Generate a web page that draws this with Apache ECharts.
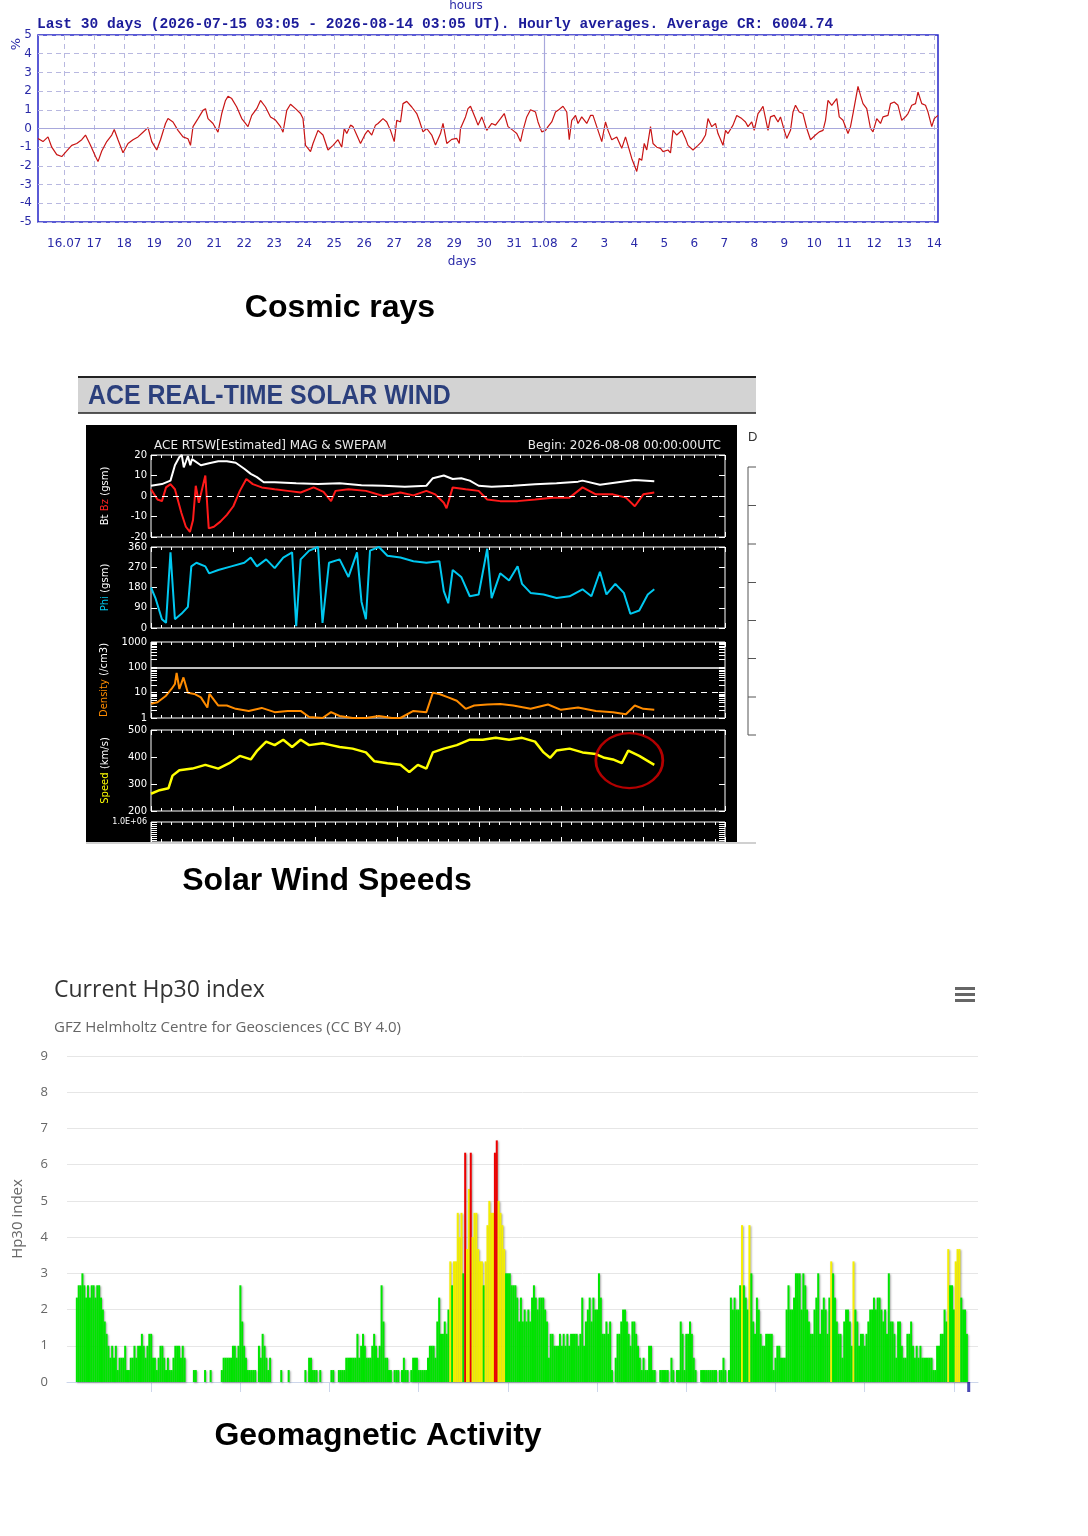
<!DOCTYPE html>
<html>
<head>
<meta charset="utf-8">
<title>Cosmic rays, solar wind, Hp30</title>
<script src="https://cdn.jsdelivr.net/npm/echarts@6/dist/echarts.min.js"></script>
<style>
html, body { margin: 0; padding: 0; background: #fff; }
#chart { width: 1088px; height: 1536px; }
</style>
</head>
<body>
<div id="chart"></div>
<script>
// ---- cosmic rays: hour 0 = 2026-07-15 03:05 UT, [hour, %] ----
var dayLabels = ['16.07','17','18','19','20','21','22','23','24','25','26','27','28','29','30','31',
    '1.08','2','3','4','5','6','7','8','9','10','11','12','13','14'];
var crData = [[0,-0.53],[4,-0.7],[8,-0.45],[11,-1.0],[15,-1.4],[19,-1.5],[23,-1.2],[27,-0.9],[31,-0.8],[35,-0.6],
    [38,-0.35],[42,-0.9],[46,-1.5],[48,-1.77],[51,-1.2],[55,-0.7],[59,-0.35],[61,-0.05],[64,-0.6],[68,-1.3],
    [72,-0.8],[76,-0.6],[80,-0.45],[84,-0.2],[88,0.05],[91,-0.7],[95,-1.15],[98,-0.6],[102,0.27],[104,0.53],
    [108,0.35],[112,-0.1],[116,-0.45],[120,-0.55],[122,-0.9],[124,0.1],[128,0.53],[132,0.97],[134,1.06],[136,0.53],
    [140,0.27],[144,-0.2],[147,0.8],[150,1.5],[152,1.72],[155,1.6],[159,1.15],[163,0.53],[168,0.1],[171,0.7],
    [175,1.06],[178,1.5],[182,1.15],[186,0.62],[190,0.45],[194,0.1],[196,-0.2],[199,0.97],[202,1.3],[206,1.06],
    [210,0.8],[212,0.53],[214,-0.9],[216,-1.06],[218,-1.24],[220,-0.8],[224,-0.1],[228,-0.35],[232,-1.15],[236,-0.9],
    [240,-0.6],[243,-1.0],[245,0],[247,-0.27],[250,0.18],[252,0.1],[255,-0.35],[258,-0.8],[262,-0.27],[264,-0.1],
    [267,-0.35],[270,0.18],[272,0.27],[276,0.53],[279,0.35],[282,-0.1],[285,-0.7],[287,0.44],[290,0.35],[292,1.33],
    [295,1.45],[299,1.15],[303,0.8],[305,0.44],[308,-0.18],[311,0],[315,-0.35],[318,-0.88],[322,-0.27],[324,0.27],
    [327,-0.8],[331,-0.58],[335,-0.53],[337,-0.8],[338,0],[342,0.62],[344,1.06],[346,1.19],[350,0.53],[352,0.18],
    [355,0.62],[359,-0.1],[363,0.27],[366,0.18],[370,0.53],[373,0.8],[376,0.1],[380,-0.1],[383,-0.27],[386,-0.7],
    [388,-0.1],[391,0.62],[394,1.0],[398,0.88],[400,0.35],[403,-0.18],[406,-0.1],[408,0.1],[411,0.35],[414,0.88],
    [416,0.97],[420,1.19],[423,0.88],[425,-0.6],[427,0.44],[430,0.7],[432,0.27],[435,0.62],[439,0.27],[442,0.7],
    [444,0.7],[447,0.1],[451,-0.7],[454,0.35],[456,-0.1],[459,-0.6],[463,-0.45],[467,-1.06],[470,-0.45],[472,-0.9],
    [475,-1.6],[479,-2.3],[481,-1.6],[483,-1.7],[485,-0.8],[487,-1.15],[490,0.1],[492,-0.8],[495,-1.0],[498,-1.06],
    [500,-1.24],[504,-1.15],[506,-1.3],[508,-0.1],[511,-0.35],[515,-0.1],[518,-0.53],[520,-0.9],[524,-1.15],[528,-0.9],
    [531,-0.7],[534,-0.35],[536,0.53],[539,0.1],[542,0.27],[544,-0.27],[548,-0.9],[550,-0.1],[552,-0.27],[556,0.18],
    [559,0.7],[563,0.53],[566,0.35],[568,0.1],[571,0.35],[573,-0.1],[576,0.8],[578,0.97],[580,1.19],[584,-0.1],
    [586,0.62],[589,0.7],[592,0.35],[594,0.62],[597,-0.1],[599,-0.53],[602,-0.1],[604,0.88],[606,1.24],[609,0.88],
    [612,0.8],[615,0],[618,-0.6],[622,-0.35],[625,-0.18],[628,-0.1],[630,0.44],[632,1.5],[635,1.24],[639,1.6],
    [641,0.62],[644,0.44],[648,-0.27],[650,0.1],[652,0.8],[656,2.25],[658,1.77],[660,1.33],[663,1.06],[666,0],
    [668,-0.18],[671,0.53],[674,0.27],[676,0.62],[680,0.7],[682,1.33],[685,1.42],[688,1.24],[691,0.44],[694,0.62],
    [696,0.8],[699,1.24],[702,1.33],[704,1.95],[707,1.33],[710,1.24],[712,0.88],[715,0.1],[717,0.53],[720,0.7]];

// ---- ACE solar wind: hour 0 = 2026-08-08 00:00 UTC, [hour, value] ----
var btData = [[0,5],[3.2,5.8],[5.7,7.5],[7,15],[8.3,19],[9,20],[9.6,14],[10.2,16.7],[10.8,19.5],[11.5,15],
    [12,18],[14.6,15],[17,16],[19.7,17],[22.2,17],[24.8,16.2],[27.3,13.3],[29.2,10.8],[31,9.2],[33,6.7],
    [36.2,6.7],[42.5,6.2],[48.9,5.8],[55.2,6.2],[61.6,5.3],[68,5],[74.3,4.5],[80.6,5],[82.5,8.7],[85.7,10],
    [88.3,8.3],[90.8,8.7],[93.3,7.5],[95.9,5],[99.7,4.5],[106,5],[112.4,5.7],[118.7,6.2],[125,7],[126.3,7.5],
    [131.4,5.5],[137.8,7],[141.6,7.8],[147.3,7.2]];
var bzData = [[0,3.3],[1.9,-1.7],[3.2,-2.5],[4.4,4.2],[5.7,5.8],[7,3.3],[8.9,-8.3],[10.2,-15],[11.4,-17.5],[12.3,-11.7],
    [13.1,5],[14,-3.3],[15.9,10],[16.9,-15.8],[18.4,-15],[20.3,-12.5],[22.2,-9.2],[24.1,-5],[26,2.5],[27.9,8.3],
    [29.8,5.8],[32.4,4.2],[36.2,3.3],[40,2.5],[43.8,1.7],[47.6,4.2],[50.5,2],[52.7,-2.5],[54,2.5],[57.8,3.3],
    [62.9,2.5],[68,0],[73,1.7],[76.8,0.3],[80.6,2.5],[83.2,0.8],[85.7,-3.3],[86.5,-6],[88.3,4.2],[92.1,3.3],
    [95.9,2.5],[98.4,-1.7],[102.2,-2.5],[107.3,-2.5],[112.4,-1.7],[117.5,-0.8],[122.5,-0.8],[126.3,4.2],[130.2,0.8],[135.2,0.8],
    [139,-0.8],[141.6,-5],[144.1,0.8],[147.3,1.7]];
var phiData = [[0,180],[1.3,133],[3.2,39],[4.4,23],[5.7,336],[7,39],[8.9,63],[10.8,94],[11.8,274],[13.3,290],
    [15.9,274],[17,243],[19.7,258],[23.5,274],[27.3,290],[29.2,313],[31,274],[33.7,305],[36.2,266],[38.7,313],
    [41.3,336],[42.5,8],[43.8,305],[46.3,344],[48.9,360],[50.2,23],[52.1,290],[55.2,305],[57.8,227],[60.3,336],
    [61.6,117],[62.9,39],[64.1,344],[66.7,360],[69.2,321],[73,313],[76.8,297],[80.6,290],[84.4,297],[85.7,164],
    [87,110],[88.3,258],[90.8,227],[93.3,141],[95.9,149],[98.4,352],[99.7,133],[102.2,243],[104.8,211],[107.3,274],
    [108.6,196],[111.1,156],[114.9,149],[118.7,133],[122.5,141],[126.3,172],[128.9,141],[131.4,250],[133.3,149],[135.9,196],
    [138.4,156],[140.3,63],[142.9,78],[145.4,149],[147.3,172]];
var densityData = [[0,3.6],[1.9,4.2],[4.4,7.6],[6,14],[7,22],[7.5,60],[8.3,14],[9.5,40],[10.8,10],[12.7,8.9],
    [14.6,6.5],[16.5,2.6],[17.1,8.9],[19.7,3.1],[22.2,3.1],[24.8,2.3],[28.6,1.9],[32.4,2.5],[36.2,1.7],[40,1.9],
    [43.8,1.9],[46.3,1.1],[50.2,1],[52.7,1.7],[55.2,1.2],[59,1],[62.9,1],[66.7,1.2],[70.5,1],[73,1],
    [76.8,1.9],[80.6,1.7],[82.5,10],[84.4,8.9],[87,6.5],[89.5,4.8],[92.1,2.3],[94.6,3.1],[98.4,3.4],[102.2,3.6],
    [106,3.1],[111.1,2.3],[116.2,3.4],[120,2.1],[125,2.6],[130.2,1.9],[135.2,1.7],[139,1.4],[141.6,3.1],[144.1,2.3],
    [147.3,2.1]];
var speedData = [[0,264],[2.5,277],[5.1,284],[6.3,331],[8.3,351],[12.1,357],[15.9,371],[19.7,357],[22.9,377],[26,404],
    [29.2,391],[31.1,424],[33.7,457],[36.2,444],[38.7,464],[41.3,437],[43.8,464],[46.3,444],[50.2,451],[52.7,444],
    [55.2,437],[59,431],[62.9,417],[65.4,384],[69.2,377],[73,371],[75.6,344],[78.1,371],[80.6,357],[82.5,417],
    [85.7,431],[89.5,444],[93.3,464],[97.1,464],[100.9,471],[104.8,464],[108.6,471],[112.4,457],[114.9,417],[116.8,397],
    [118.7,424],[122.5,431],[126.3,417],[130.2,411],[132.7,397],[135.2,391],[137.8,377],[139.7,424],[142.9,404],[147.3,371]];
var circledPoint = [[140, 387]];

// ---- Hp30 half-hourly index, last 10 days ----
var hp30Values = [
    2.33,2.67,2.67,3,2.67,2.33,2.67,2.33,2.67,2.67,
    2.33,2.67,2.67,2.33,2,1.67,1.33,1,0.67,1,
    0.67,1,0.33,0.67,0.67,0.67,1,0.33,0.33,0.67,
    0.67,1,0.67,1,1,1.33,1,0.67,1,1.33,
    1.33,0.67,0.67,0.33,0.67,1,1,0.67,0.33,0.67,
    0.33,0.33,0.67,1,1,1,0.67,1,0.67,0,
    0,0,0,0.33,0.33,0,0,0,0,0.33,
    0,0,0.33,0,0,0,0,0,0.33,0.67,
    0.67,0.67,0.67,0.67,1,1,0.67,1,2.67,1.67,
    1,0.67,0.33,0.33,0.33,0.33,0.33,0,1,0.67,
    1.33,1,0.67,0.33,0.67,0,0,0,0,0,
    0.33,0,0,0,0.33,0,0,0,0,0,
    0,0,0,0.33,0,0.67,0.67,0.33,0.33,0.33,
    0,0.33,0,0,0,0,0,0.33,0.33,0,
    0,0.33,0.33,0.33,0.33,0.67,0.67,0.67,0.67,0.67,
    0.67,1.33,0.67,1,1.33,1,0.67,0.67,0.67,1,
    1.33,1,0.67,1,2.67,1.67,0.67,0.67,0.33,0.33,
    0,0.33,0.33,0.33,0,0.33,0.67,0.33,0.33,0,
    0.33,0.67,0.67,0.67,0.33,0.33,0.33,0.33,0.33,0.67,
    1,1,1,0.67,1.67,2.33,1.33,1.33,1.67,1.33,
    2,3.33,2.67,3.33,3.33,4.67,4,4.67,3,6.33,
    3.67,5.33,6.33,4,4.67,4.67,3.67,3.33,3.33,2.67,
    3.33,4.33,5,4.67,4.67,6.33,6.67,5,4.67,4.33,
    3.67,3,3,3,2.67,2.67,2.67,2.33,1.67,2.33,
    1.67,2,1.67,2,1.67,2.33,2.67,2.33,2,2.33,
    2.33,2.33,2,1.67,0.67,1.33,1.33,1,1,1,
    1.33,1,1.33,1,1.33,1,1.33,1.33,1.33,1.33,
    1,1.33,2.33,1,1.67,2,2.33,1.67,2.33,2,
    2,3,2.33,1.33,1.33,1.67,1.33,1.67,0.33,0,
    0.67,1.33,1.33,1.67,2,2,1.67,1.33,1,1.67,
    1.67,1.33,1,0.67,0.33,0.67,0.33,0.33,1,1,
    0.33,0.33,0,0,0.33,0.33,0.33,0.33,0.33,0,
    0.67,0.33,0,0.33,0.33,1.67,1.33,0.33,1.33,1.33,
    1.67,1.33,0.67,0.33,0,0,0.33,0.33,0.33,0.33,
    0.33,0.33,0.33,0.33,0.33,0,0.33,0.33,0.67,0.33,
    0,0.33,2.33,2,2.33,2,2,2.67,4.33,2.67,
    2.33,2,4.33,3,1.67,1.33,2.33,2,1.33,1,
    1,1.33,1.33,1.33,1.33,0.33,0.67,1,1,0.67,
    0.67,0.67,2,2.67,2,2,2.33,3,3,3,
    2,3,2.67,2,1.67,1.33,1.33,2,2.33,3,
    1.33,2,2.33,2,1.33,2.33,3.33,3,2.33,1.67,
    1.33,1.33,0.67,1.67,2,2,1.67,1,3.33,2,
    1.67,1,1.33,1.33,1,1.33,1.67,2,2,2.33,
    2,2.33,2.33,2,1.67,2,1.33,3,1.67,1.67,
    1.33,0.67,1.67,1.67,1,0.67,0.67,1.33,1.33,1.67,
    1,0.67,1,0.67,1,0.67,0.67,0.67,0.67,0.67,
    0.67,0.33,0.33,1,1,1.33,1.33,2,1.67,3.67,
    2.67,2.67,2,3.33,3.67,3.67,2.33,2,2,1.33];
var hp30DayTicks = [40, 88, 136, 184, 232, 280, 328, 376, 424, 472];
var hp30Now = [[480, 0]];

// ---- helpers ----
var crBlue = '#2a2aa8';
var hourCats = [];
for (var h = 0; h <= 720; h++) {
    hourCats.push(String(h));
}
function isDayTick(index) {
    return index >= 21 && (index - 21) % 24 === 0;
}

var aceTop = [455, 547, 642, 730, 822];
var aceHeight = [82, 81, 76, 81, 20];
var aceGrids = [];
var aceX = [];
var aceYLeft = [];
var aceYRight = [];
var aceRange = [
    { type: 'value', min: -20, max: 20, interval: 10, name: '{w|Bt} {r|Bz} {w|(gsm)}' },
    { type: 'value', min: 0, max: 360, interval: 90, name: '{c|Phi} {w|(gsm)}' },
    { type: 'log', min: 1, max: 1000, logBase: 10, name: '{o|Density} {w|(/cm3)}' },
    { type: 'value', min: 200, max: 500, interval: 100, name: '{y|Speed} {w|(km/s)}' },
    { type: 'value', min: 0, max: 1, interval: 0.1, name: '' }
];
var nameRich = {
    w: { color: '#ffffff', fontSize: 10, fontFamily: 'DejaVu Sans' },
    r: { color: '#ff2020', fontSize: 10, fontFamily: 'DejaVu Sans' },
    c: { color: '#00c8f0', fontSize: 10, fontFamily: 'DejaVu Sans' },
    o: { color: '#ff8c00', fontSize: 10, fontFamily: 'DejaVu Sans' },
    y: { color: '#ffff00', fontSize: 10, fontFamily: 'DejaVu Sans' }
};
var logTicks = [1,2,3,4,5,6,7,8,9,10,20,30,40,50,60,70,80,90,100,200,300,400,500,600,700,800,900,1000];

for (var k = 0; k < 5; k++) {
    aceGrids.push({ left: 151, top: aceTop[k], width: 574, height: aceHeight[k],
        show: true, borderColor: '#ffffff', borderWidth: 1 });
    ['bottom', 'top'].forEach(function (pos) {
        aceX.push({
            type: 'value', gridIndex: k + 1, position: pos, min: 0, max: 168, interval: 24,
            axisLine: { show: false, onZero: false },
            axisTick: { show: true, inside: true, length: 5, lineStyle: { color: '#fff' } },
            minorTick: { show: true, splitNumber: 8, length: 3, lineStyle: { color: '#fff' } },
            axisLabel: { show: false },
            splitLine: { show: false }
        });
    });
    var r = aceRange[k];
    var left = {
        type: r.type, gridIndex: k + 1, position: 'left', min: r.min, max: r.max,
        name: r.name, nameLocation: 'middle', nameGap: 40, nameRotate: 90,
        nameTextStyle: { rich: nameRich },
        axisLine: { show: false, onZero: false },
        axisTick: { show: true, inside: true, length: 6, lineStyle: { color: '#fff' } },
        axisLabel: { color: '#ffffff', fontSize: 10, fontFamily: 'DejaVu Sans', margin: 4 },
        splitLine: { show: false }
    };
    var right = {
        type: r.type, gridIndex: k + 1, position: 'right', min: r.min, max: r.max,
        axisLine: { show: false, onZero: false },
        axisTick: { show: true, inside: true, length: 6, lineStyle: { color: '#fff' } },
        axisLabel: { show: false },
        splitLine: { show: false }
    };
    if (r.type === 'log') {
        left.logBase = right.logBase = 10;
        left.axisTick.customValues = logTicks;
        right.axisTick.customValues = logTicks;
        left.axisLabel.formatter = function (v) { return String(Math.round(v)); };
    } else {
        left.interval = right.interval = r.interval;
    }
    if (k === 4) {
        left.axisLabel.fontSize = 8;
        left.axisLabel.formatter = function (v) { return v >= 0.99 ? '1.0E+06' : ''; };
    }
    aceYLeft.push(left);
    aceYRight.push(right);
}

function hpColor(v) {
    if (v >= 6) return '#ee0000';
    if (v >= 3.33) return '#f5f000';
    return '#00e600';
}

var chart = echarts.init(document.getElementById('chart'));

var option = {
    animation: false,
    backgroundColor: '#ffffff',
    grid: [
        { left: 38, top: 35, width: 900, height: 187, show: true, borderColor: '#2424c8', borderWidth: 1.5 }
    ].concat(aceGrids).concat([
        { left: 67, top: 1056, width: 911, height: 326 }
    ]),
    xAxis: [
        {
            type: 'category', gridIndex: 0, data: hourCats, boundaryGap: false,
            axisLine: { show: false },
            axisTick: { show: false },
            axisLabel: {
                interval: function (i) { return isDayTick(i); },
                formatter: function (v, i) { return dayLabels[(i - 21) / 24]; },
                color: crBlue, fontSize: 12, fontFamily: 'DejaVu Sans', margin: 16
            },
            splitLine: {
                show: true,
                interval: function (i) { return isDayTick(i); },
                lineStyle: { color: '#b8b8e0', type: [5, 4], width: 1 }
            }
        }
    ].concat(aceX).concat([
        {
            type: 'value', gridIndex: 6, min: -5.3, max: 485, offset: 11,
            axisLine: { show: true, lineStyle: { color: '#ccd6eb' } },
            axisTick: { show: true, length: 10, customValues: hp30DayTicks, lineStyle: { color: '#ccd6eb' } },
            axisLabel: { show: false },
            splitLine: { show: false }
        }
    ]),
    yAxis: [
        {
            type: 'value', gridIndex: 0, min: -5, max: 5, interval: 1,
            axisLine: { show: false },
            axisTick: { show: false },
            axisLabel: { color: crBlue, fontSize: 12, fontFamily: 'DejaVu Sans', margin: 6 },
            splitLine: { show: true, lineStyle: { color: '#b8b8e0', type: [5, 4], width: 1 } }
        }
    ].concat(aceYLeft).concat(aceYRight).concat([
        {
            type: 'value', gridIndex: 6, min: 0, max: 9, interval: 1,
            name: 'Hp30 index', nameLocation: 'middle', nameGap: 42,
            nameTextStyle: { color: '#666666', fontSize: 15, fontFamily: 'Open Sans' },
            axisLine: { show: false },
            axisTick: { show: false },
            axisLabel: { color: '#666666', fontSize: 13, fontFamily: 'Open Sans', margin: 19 },
            splitLine: { lineStyle: { color: '#e6e6e6' } }
        }
    ]),
    series: [
        {
            type: 'line', xAxisIndex: 0, yAxisIndex: 0, data: crData,
            symbol: 'none', lineStyle: { color: '#c81414', width: 1.2 },
            markLine: {
                silent: true, symbol: 'none', label: { show: false },
                lineStyle: { color: '#a8a8dc', type: 'solid', width: 1.2 },
                data: [{ yAxis: 0 }, { xAxis: 405 }]
            },
            z: 3
        },
        {
            type: 'line', xAxisIndex: 1, yAxisIndex: 1, data: btData,
            symbol: 'none', lineStyle: { color: '#ffffff', width: 2 }
        },
        {
            type: 'line', xAxisIndex: 1, yAxisIndex: 1, data: bzData,
            symbol: 'none', lineStyle: { color: '#ff1a1a', width: 2 },
            markLine: {
                silent: true, symbol: 'none', label: { show: false },
                lineStyle: { color: '#ffffff', type: [6, 5], width: 1 },
                data: [{ yAxis: 0 }]
            }
        },
        {
            type: 'line', xAxisIndex: 3, yAxisIndex: 2, data: phiData,
            symbol: 'none', lineStyle: { color: '#00c8f0', width: 2 }
        },
        {
            type: 'line', xAxisIndex: 5, yAxisIndex: 3, data: densityData,
            symbol: 'none', lineStyle: { color: '#ff8c00', width: 2 },
            markLine: {
                silent: true, symbol: 'none', label: { show: false },
                data: [
                    { yAxis: 10, lineStyle: { color: '#ffffff', type: [6, 5], width: 1 } },
                    { yAxis: 100, lineStyle: { color: '#ffffff', type: 'solid', width: 1.5 } }
                ]
            }
        },
        {
            type: 'line', xAxisIndex: 7, yAxisIndex: 4, data: speedData,
            symbol: 'none', lineStyle: { color: '#ffff00', width: 2.5 }
        },
        {
            type: 'scatter', xAxisIndex: 7, yAxisIndex: 4, data: circledPoint,
            symbol: 'circle', symbolSize: [67, 55], clip: false, silent: true,
            itemStyle: { color: 'rgba(0,0,0,0)', borderColor: '#e00000', borderWidth: 2.5 },
            z: 5
        },
        {
            type: 'bar', xAxisIndex: 11, yAxisIndex: 11, barWidth: 2,
            data: hp30Values.map(function (v, i) { return [i, v]; }),
            itemStyle: {
                color: function (p) { return hpColor(p.value[1]); },
                shadowColor: 'rgba(0,0,0,0.35)', shadowBlur: 2, shadowOffsetX: 1, shadowOffsetY: 1
            }
        },
        {
            type: 'scatter', xAxisIndex: 11, yAxisIndex: 11, data: hp30Now,
            symbol: 'rect', symbolSize: [3, 10], symbolOffset: [0, 5], clip: false,
            itemStyle: { color: '#1a1aa0' }, z: 5
        }
    ],
    graphic: [
        // cosmic ray texts
        { type: 'text', x: 466, y: 6, style: { text: 'hours', font: '12px "DejaVu Sans"', fill: crBlue, textAlign: 'center', textVerticalAlign: 'middle' } },
        { type: 'text', x: 37, y: 24, scaleX: 0.972, style: { text: 'Last 30 days (2026-07-15 03:05 - 2026-08-14 03:05 UT). Hourly averages. Average CR: 6004.74',
            font: 'bold 15px "Liberation Mono"', fill: '#1c1c9a', textAlign: 'left', textVerticalAlign: 'middle' } },
        { type: 'text', x: 462, y: 262, style: { text: 'days', font: '12px "DejaVu Sans"', fill: crBlue, textAlign: 'center', textVerticalAlign: 'middle' } },
        { type: 'text', x: 17, y: 44, rotation: Math.PI / 2, style: { text: '%', font: '13px "DejaVu Sans"', fill: crBlue, textAlign: 'center', textVerticalAlign: 'middle' } },
        { type: 'text', x: 340, y: 308, style: { text: 'Cosmic rays', font: 'bold 32px "Liberation Sans"', fill: '#000', textAlign: 'center', textVerticalAlign: 'middle' } },

        // ACE header and panel
        { type: 'rect', z: -10, shape: { x: 78, y: 377, width: 678, height: 36 }, style: { fill: '#d3d3d3' } },
        { type: 'line', z: -9, shape: { x1: 78, y1: 377, x2: 756, y2: 377 }, style: { stroke: '#222', lineWidth: 2 } },
        { type: 'line', z: -9, shape: { x1: 78, y1: 413, x2: 756, y2: 413 }, style: { stroke: '#222', lineWidth: 1.5 } },
        { type: 'text', x: 88, y: 396, scaleX: 0.89, style: { text: 'ACE REAL-TIME SOLAR WIND', font: 'bold 28px "Liberation Sans"', fill: '#2b3f7c', textAlign: 'left', textVerticalAlign: 'middle' } },
        { type: 'rect', z: -10, shape: { x: 86, y: 425, width: 651, height: 417 }, style: { fill: '#000' } },
        { type: 'text', x: 154, y: 446, style: { text: 'ACE RTSW[Estimated] MAG & SWEPAM', font: '12px "DejaVu Sans"', fill: '#e8e8e8', textAlign: 'left', textVerticalAlign: 'middle' } },
        { type: 'text', x: 721, y: 446, style: { text: 'Begin: 2026-08-08 00:00:00UTC', font: '12px "DejaVu Sans"', fill: '#e8e8e8', textAlign: 'right', textVerticalAlign: 'middle' } },
        { type: 'line', z: 10, shape: { x1: 86, y1: 843, x2: 756, y2: 843 }, style: { stroke: '#d0d0d0', lineWidth: 2 } },
        { type: 'text', x: 748, y: 437, style: { text: 'D', font: '13px "Liberation Sans"', fill: '#333', textAlign: 'left', textVerticalAlign: 'middle' } },
        { type: 'line', shape: { x1: 748, y1: 467, x2: 748, y2: 735 }, style: { stroke: '#555', lineWidth: 1 } },
        { type: 'line', shape: { x1: 748, y1: 467, x2: 756, y2: 467 }, style: { stroke: '#555', lineWidth: 1 } },
        { type: 'line', shape: { x1: 748, y1: 505.5, x2: 756, y2: 505.5 }, style: { stroke: '#555', lineWidth: 1 } },
        { type: 'line', shape: { x1: 748, y1: 544, x2: 756, y2: 544 }, style: { stroke: '#555', lineWidth: 1 } },
        { type: 'line', shape: { x1: 748, y1: 582.5, x2: 756, y2: 582.5 }, style: { stroke: '#555', lineWidth: 1 } },
        { type: 'line', shape: { x1: 748, y1: 620.5, x2: 756, y2: 620.5 }, style: { stroke: '#555', lineWidth: 1 } },
        { type: 'line', shape: { x1: 748, y1: 658.5, x2: 756, y2: 658.5 }, style: { stroke: '#555', lineWidth: 1 } },
        { type: 'line', shape: { x1: 748, y1: 697, x2: 756, y2: 697 }, style: { stroke: '#555', lineWidth: 1 } },
        { type: 'line', shape: { x1: 748, y1: 735, x2: 756, y2: 735 }, style: { stroke: '#555', lineWidth: 1 } },
        { type: 'text', x: 327, y: 881, style: { text: 'Solar Wind Speeds', font: 'bold 32px "Liberation Sans"', fill: '#000', textAlign: 'center', textVerticalAlign: 'middle' } },

        // Hp30 texts
        { type: 'text', x: 54, y: 990, style: { text: 'Current Hp30 index', font: '23px "Open Sans"', fill: '#333333', textAlign: 'left', textVerticalAlign: 'middle' } },
        { type: 'text', x: 54, y: 1028, style: { text: 'GFZ Helmholtz Centre for Geosciences (CC BY 4.0)', font: '15px "Open Sans"', fill: '#666666', textAlign: 'left', textVerticalAlign: 'middle' } },
        { type: 'rect', shape: { x: 955, y: 987, width: 20, height: 3 }, style: { fill: '#666' } },
        { type: 'rect', shape: { x: 955, y: 993, width: 20, height: 3 }, style: { fill: '#666' } },
        { type: 'rect', shape: { x: 955, y: 999, width: 20, height: 3 }, style: { fill: '#666' } },
        { type: 'text', x: 378, y: 1436, style: { text: 'Geomagnetic Activity', font: 'bold 32px "Liberation Sans"', fill: '#000', textAlign: 'center', textVerticalAlign: 'middle' } }
    ]
};

chart.setOption(option);
</script>
</body>
</html>
